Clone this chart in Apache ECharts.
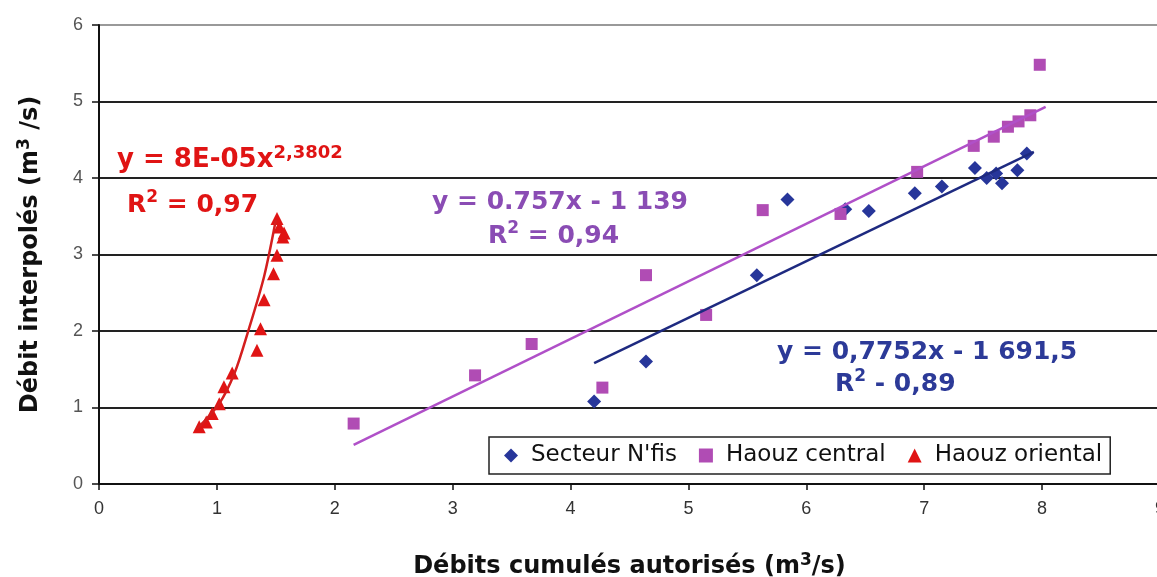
<!DOCTYPE html>
<html>
<head>
<meta charset="utf-8">
<script src="https://cdn.jsdelivr.net/npm/echarts@6/dist/echarts.min.js"></script>
<style>
html, body { margin: 0; padding: 0; background: #fff; }
#chart { width: 1157px; height: 577px; }
</style>
</head>
<body>
<div id="chart"></div>
<script>
// données
var nfisX = [4.20, 4.64, 5.58, 5.84, 6.33, 6.53, 6.92, 7.15, 7.43, 7.53, 7.61, 7.66, 7.79, 7.87];
var nfisY = [1.08, 1.60, 2.73, 3.72, 3.59, 3.57, 3.80, 3.89, 4.13, 4.00, 4.06, 3.93, 4.10, 4.32];

var centralX = [2.16, 3.19, 3.67, 4.27, 4.64, 5.15, 5.63, 6.29, 6.94, 7.42, 7.59, 7.71, 7.80, 7.90, 7.98];
var centralY = [0.79, 1.42, 1.83, 1.26, 2.73, 2.21, 3.58, 3.53, 4.08, 4.42, 4.54, 4.67, 4.74, 4.82, 5.48];

var orientalX = [0.85, 0.91, 0.96, 1.02, 1.06, 1.13, 1.34, 1.37, 1.40, 1.48, 1.51, 1.56, 1.53, 1.51, 1.57];
var orientalY = [0.75, 0.81, 0.92, 1.05, 1.27, 1.45, 1.75, 2.03, 2.41, 2.75, 2.99, 3.23, 3.36, 3.47, 3.28];

// courbes de tendance
var nfisFitX = [4.20, 7.93];
var nfisFitY = [1.58, 4.34];
var centralFitX = [2.16, 8.03];
var centralFitY = [0.51, 4.93];
var orientalFitX = [0.83, 1.02, 1.15, 1.26, 1.40, 1.50];
var orientalFitY = [0.72, 1.05, 1.45, 1.97, 2.71, 3.45];

var seriesNames = ['Secteur N\'fis', 'Haouz central', 'Haouz oriental'];

function pairs(xs, ys) {
    var out = [];
    for (var i = 0; i < xs.length; i++) out.push([xs[i], ys[i]]);
    return out;
}

var BLUE = '#27369a';
var PURPLE = '#b04cb4';
var RED = '#e01414';
var eqFont = 'DejaVu Sans, Liberation Sans, sans-serif';

// texte d'équation avec exposant
function eqText(x, y, txt, color, size) {
    return {
        type: 'text',
        x: x,
        y: y,
        z: 100,
        style: {
            text: txt,
            textVerticalAlign: 'middle',
            rich: {
                a: { fontSize: size, fontWeight: 'bold', fill: color, fontFamily: eqFont, lineHeight: size + 6 },
                s: { fontSize: Math.round(size * 0.68), fontWeight: 'bold', fill: color, fontFamily: eqFont, verticalAlign: 'top', lineHeight: size + 6 }
            }
        }
    };
}

var titleRich = {
    a: { fontSize: 24, fontWeight: 'bold', color: '#111', fontFamily: eqFont, lineHeight: 30 },
    s: { fontSize: 17, fontWeight: 'bold', color: '#111', fontFamily: eqFont, verticalAlign: 'top', lineHeight: 30 }
};

var myChart = echarts.init(document.getElementById('chart'));
var option = {
    animation: false,
    backgroundColor: '#fff',
    grid: {
        left: 99,
        right: -3,
        top: 25,
        bottom: 93,
        outerBoundsMode: 'none'
    },
    legend: {
        data: seriesNames,
        left: 489,
        top: 437,
        padding: [7, 8, 7, 15],
        itemGap: 22,
        itemWidth: 14,
        itemHeight: 14,
        borderColor: '#222',
        borderWidth: 1.5,
        backgroundColor: '#fff',
        textStyle: {
            fontSize: 23,
            color: '#111',
            padding: [0, 0, 0, 8],
            fontFamily: 'DejaVu Sans, sans-serif'
        }
    },
    xAxis: {
        type: 'value',
        min: 0,
        max: 9,
        interval: 1,
        name: '{a|Débits cumulés autorisés (m}{s|3}{a|/s)}',
        nameLocation: 'middle',
        nameGap: 68,
        nameTextStyle: { rich: titleRich },
        axisLine: { lineStyle: { color: '#111', width: 2 } },
        axisTick: { show: true, length: 6, lineStyle: { color: '#111', width: 1.5 } },
        axisLabel: { fontSize: 18, color: '#333', margin: 16, fontFamily: 'Liberation Sans Narrow, Liberation Sans, sans-serif' },
        splitLine: { show: false }
    },
    yAxis: {
        type: 'value',
        min: 0,
        max: 6,
        interval: 1,
        name: '{a|Débit interpolés (m}{s|3}{a| /s)}',
        nameLocation: 'middle',
        nameGap: 53,
        nameTextStyle: { rich: titleRich },
        axisLine: { show: true, lineStyle: { color: '#111', width: 2 } },
        axisTick: { show: true, length: 7, lineStyle: { color: '#111', width: 1.5 } },
        axisLabel: { fontSize: 18, color: '#555', margin: 16, fontFamily: 'Liberation Sans, sans-serif' },
        splitLine: {
            show: true,
            lineStyle: { color: ['#222', '#222', '#222', '#222', '#222', '#222', '#999'], width: 2 }
        }
    },
    graphic: [
        eqText(117, 160, '{a|y = 8E-05x}{s|2,3802}', RED, 26),
        eqText(127, 205, '{a|R}{s|2}{a| = 0,97}', RED, 25),
        eqText(432, 202, '{a|y = 0.757x - 1 139}', '#8a4cb4', 25),
        eqText(488, 236, '{a|R}{s|2}{a| = 0,94}', '#8a4cb4', 25),
        eqText(777, 352, '{a|y = 0,7752x - 1 691,5}', '#2c3a98', 25),
        eqText(835, 384, '{a|R}{s|2}{a| - 0,89}', '#2c3a98', 25)
    ],
    series: [
        {
            name: seriesNames[0],
            type: 'scatter',
            symbol: 'diamond',
            symbolSize: 14,
            itemStyle: { color: BLUE, opacity: 1 },
            data: pairs(nfisX, nfisY)
        },
        {
            name: seriesNames[1],
            type: 'scatter',
            symbol: 'rect',
            symbolSize: 12,
            itemStyle: { color: PURPLE, opacity: 1 },
            data: pairs(centralX, centralY)
        },
        {
            name: seriesNames[2],
            type: 'scatter',
            symbol: 'triangle',
            symbolSize: 13,
            itemStyle: { color: RED, opacity: 1 },
            data: pairs(orientalX, orientalY)
        },
        {
            name: 'tendance N\'fis',
            type: 'line',
            symbol: 'none',
            z: 5,
            lineStyle: { color: '#1e2a80', width: 2.5 },
            data: pairs(nfisFitX, nfisFitY)
        },
        {
            name: 'tendance central',
            type: 'line',
            symbol: 'none',
            z: 5,
            lineStyle: { color: '#b050c8', width: 2.5 },
            data: pairs(centralFitX, centralFitY)
        },
        {
            name: 'tendance oriental',
            type: 'line',
            symbol: 'none',
            smooth: 0.3,
            z: 5,
            lineStyle: { color: '#d41e1e', width: 2.5 },
            data: pairs(orientalFitX, orientalFitY)
        }
    ]
};

myChart.setOption(option);
</script>
</body>
</html>
